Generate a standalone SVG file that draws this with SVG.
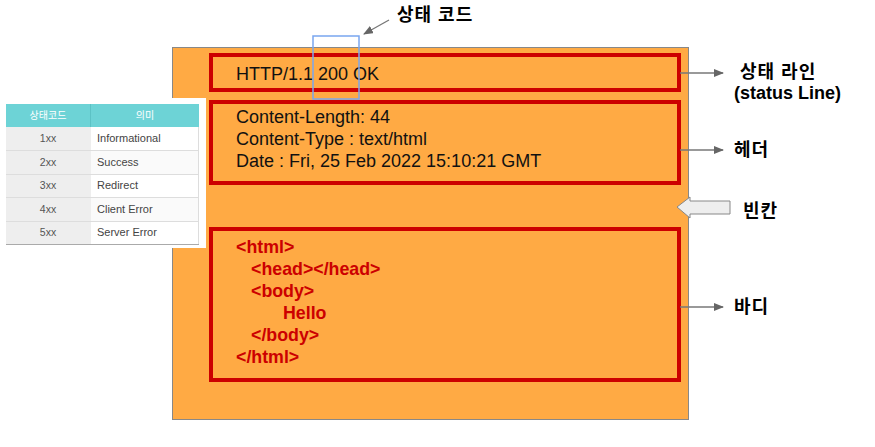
<svg xmlns="http://www.w3.org/2000/svg" width="875" height="447" viewBox="0 0 875 447">
<style>
.box{fill:none;stroke:#cc0000;stroke-width:4;}
.t{font-family:"Liberation Sans",Arial,sans-serif;font-size:18px;fill:#111;}
.code{font-family:"Liberation Sans",Arial,sans-serif;font-size:17.8px;font-weight:bold;fill:#cc0000;}
.lbl{font-family:"Liberation Sans","Noto Sans CJK KR",sans-serif;font-size:18px;font-weight:bold;fill:#000;}
.ko{letter-spacing:1px;}
.conn{stroke:#777;stroke-width:1.3;fill:none;marker-end:url(#ah);}
.th{font-family:"Noto Sans CJK KR","Liberation Sans",sans-serif;font-size:10px;fill:#fff;text-anchor:middle;}
.tc{font-family:"Liberation Sans","Noto Sans",sans-serif;font-size:10.5px;fill:#555;text-anchor:middle;}
.td{font-family:"Liberation Sans","Noto Sans",sans-serif;font-size:11px;fill:#444;}
</style>
<defs>
<marker id="ah" markerWidth="10" markerHeight="8" refX="9" refY="4" orient="auto" markerUnits="userSpaceOnUse">
<path d="M0,0 L10,4 L0,8 Z" fill="#666"/>
</marker>
</defs>
<rect width="875" height="447" fill="#fff"/>

<g id="message">
<rect x="172.5" y="47.5" width="516" height="372" fill="#ffaa44" stroke="#888" stroke-width="1"/>
</g>

<g id="status-line">
<rect class="box" x="211" y="55" width="468" height="35"/>
<text class="t" x="236" y="80">HTTP/1.1 200 OK</text>
</g>

<g id="headers">
<rect class="box" x="211" y="102" width="468" height="81"/>
<text class="t" x="236" y="123">Content-Length: 44</text>
<text class="t" x="236" y="145">Content-Type : text/html</text>
<text class="t" x="236" y="167">Date : Fri, 25 Feb 2022 15:10:21 GMT</text>
</g>

<g id="body">
<rect class="box" x="211" y="229" width="468" height="151"/>
<text class="code" x="236" y="253">&lt;html&gt;</text>
<text class="code" x="251" y="275">&lt;head&gt;&lt;/head&gt;</text>
<text class="code" x="251" y="297">&lt;body&gt;</text>
<text class="code" x="283" y="319">Hello</text>
<text class="code" x="251" y="341">&lt;/body&gt;</text>
<text class="code" x="236" y="363">&lt;/html&gt;</text>
</g>

<g id="status-code-highlight">
<rect x="313" y="36" width="46" height="63" fill="none" stroke="#7aa6ef" stroke-width="1.5"/>
</g>

<g id="status-table">
<rect x="4" y="98" width="202" height="150" fill="#fff"/>
<rect x="6" y="104" width="193" height="23" fill="#6dd3d6"/>
<line x1="90.5" y1="104" x2="90.5" y2="127" stroke="#5cc2c5" stroke-width="1"/>
<rect x="6" y="127" width="85" height="117" fill="#eeeeee"/>
<rect x="91" y="127" width="108" height="117" fill="#fff"/>
<rect x="91" y="151" width="108" height="23" fill="#fafafa"/>
<rect x="91" y="198" width="108" height="23" fill="#fafafa"/>
<g stroke="#dddddd" stroke-width="1">
<line x1="6" y1="150.5" x2="199" y2="150.5"/>
<line x1="6" y1="174.5" x2="199" y2="174.5"/>
<line x1="6" y1="197.5" x2="199" y2="197.5"/>
<line x1="6" y1="221.5" x2="199" y2="221.5"/>
<line x1="198.5" y1="127" x2="198.5" y2="244"/>
</g>
<line x1="6" y1="244.5" x2="199" y2="244.5" stroke="#aaa" stroke-width="1"/>
<text class="th" x="48" y="119">상태코드</text>
<text class="th" x="145" y="119">의미</text>
<text class="tc" x="48" y="142">1xx</text>
<text class="td" x="97" y="142">Informational</text>
<text class="tc" x="48" y="166">2xx</text>
<text class="td" x="97" y="166">Success</text>
<text class="tc" x="48" y="189">3xx</text>
<text class="td" x="97" y="189">Redirect</text>
<text class="tc" x="48" y="213">4xx</text>
<text class="td" x="97" y="213">Client Error</text>
<text class="tc" x="48" y="236">5xx</text>
<text class="td" x="97" y="236">Server Error</text>
</g>

<g id="connectors">
<line class="conn" x1="389" y1="20" x2="364" y2="34"/>
<line class="conn" x1="680" y1="73" x2="723" y2="73"/>
<line class="conn" x1="680" y1="150" x2="723" y2="150"/>
<line class="conn" x1="680" y1="307" x2="723" y2="307"/>
</g>

<g id="blank-arrow">
<path d="M677,207 L690,197 L690,201 L730,201 L730,214 L690,214 L690,218 Z" fill="#eeeeee" stroke="#888" stroke-width="1"/>
</g>

<g id="labels">
<text class="lbl ko" x="397" y="21">상태 코드</text>
<text class="lbl ko" x="740" y="78">상태 라인</text>
<text class="lbl" x="734" y="99">(status Line)</text>
<text class="lbl ko" x="734" y="156">헤더</text>
<text class="lbl ko" x="743" y="217">빈칸</text>
<text class="lbl ko" x="734" y="313">바디</text>
</g>
</svg>
